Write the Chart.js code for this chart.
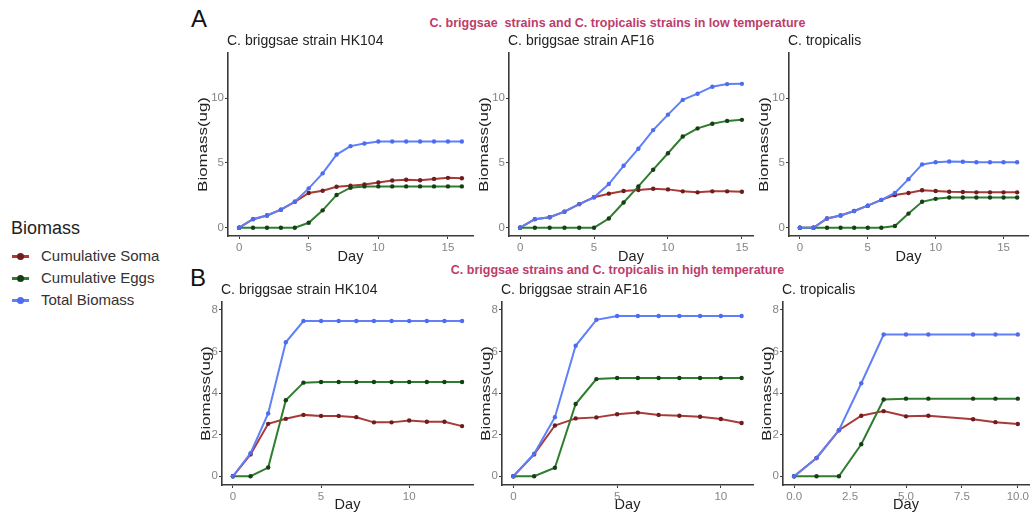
<!DOCTYPE html>
<html>
<head>
<meta charset="utf-8">
<script src="https://cdn.jsdelivr.net/npm/chart.js@4"></script>
<style>
  body { margin: 0; background: #fff; font-family: "Liberation Sans", Arial, sans-serif; }
  #page { position: relative; width: 1035px; height: 517px; overflow: hidden; }
  .abs { position: absolute; white-space: pre; }
  .tag { font-size: 24px; color: #111; line-height: 24px; }
  .head { font-size: 12.5px; font-weight: bold; color: #bd3c6c; line-height: 13px; }
  .ptitle { font-size: 14px; color: #222; line-height: 14px; }
  .leg-title { font-size: 18px; color: #222; line-height: 18px; }
  .leg-item { font-size: 15px; color: #333; line-height: 15px; }
  .swatch { position: absolute; width: 17px; height: 3px; }
  .swatch i { position: absolute; left: 5px; top: -2px; width: 7px; height: 7px; border-radius: 50%; }
  canvas { position: absolute; }
</style>
</head>
<body>
<div id="page">
  <div class="abs tag" style="left:191px; top:7px;">A</div>
  <div class="abs tag" style="left:190px; top:266px;">B</div>
  <div class="abs head" style="left:0; width:1235px; text-align:center; top:17px;">C. briggsae  strains and C. tropicalis strains in low temperature</div>
  <div class="abs head" style="left:0; width:1235px; text-align:center; top:264px;">C. briggsae strains and C. tropicalis in high temperature</div>

  <div class="abs leg-title" style="left:11px; top:219px;">Biomass</div>
</div>
<script>
// days sampled in each panel
const daysLow = [0, 1, 2, 3, 4, 5, 6, 7, 8, 9, 10, 11, 12, 13, 14, 15, 16];
const daysLowAF = [0, 1, 2, 3, 4, 5, 6, 7, 8, 9, 10, 11, 12, 13, 14, 15];
const daysHighHK = [0, 1, 2, 3, 4, 5, 6, 7, 8, 9, 10, 11, 12, 13];
const daysHighAF = [0, 1, 2, 3, 4, 5, 6, 7, 8, 9, 10, 11];
const daysHighTrop = [0, 1, 2, 3, 4, 5, 6, 8, 9, 10];

// low temperature
const somaLowHK = [0, 0.66, 0.94, 1.39, 2.0, 2.68, 2.86, 3.16, 3.24, 3.34, 3.49, 3.65, 3.7, 3.67, 3.77, 3.85, 3.82];
const eggsLowHK = [0, 0, 0, 0, 0, 0.38, 1.34, 2.53, 3.09, 3.19, 3.19, 3.19, 3.19, 3.19, 3.19, 3.19, 3.19];
const totalLowHK = [0, 0.66, 0.94, 1.39, 2.0, 3.04, 4.2, 5.65, 6.3, 6.5, 6.66, 6.66, 6.66, 6.66, 6.66, 6.66, 6.66];

const somaLowAF = [0, 0.66, 0.81, 1.24, 1.82, 2.35, 2.63, 2.84, 2.91, 3.01, 2.96, 2.81, 2.73, 2.81, 2.81, 2.78];
const eggsLowAF = [0, 0, 0, 0, 0, 0, 0.71, 1.95, 3.19, 4.48, 5.75, 7.04, 7.67, 8.03, 8.25, 8.33];
const totalLowAF = [0, 0.66, 0.81, 1.24, 1.82, 2.35, 3.37, 4.78, 6.1, 7.54, 8.73, 9.87, 10.35, 10.89, 11.09, 11.11];

const somaLowTrop = [0, 0, 0.71, 0.94, 1.29, 1.7, 2.15, 2.53, 2.68, 2.89, 2.84, 2.78, 2.76, 2.73, 2.73, 2.73, 2.73];
const eggsLowTrop = [0, 0, 0, 0, 0, 0, 0, 0.13, 1.09, 2.0, 2.23, 2.33, 2.33, 2.33, 2.33, 2.33, 2.33];
const totalLowTrop = [0, 0, 0.71, 0.94, 1.29, 1.7, 2.15, 2.68, 3.75, 4.89, 5.06, 5.11, 5.09, 5.06, 5.06, 5.06, 5.06];

// high temperature
const somaHighHK = [0, 1.05, 2.52, 2.76, 2.95, 2.9, 2.9, 2.84, 2.59, 2.59, 2.68, 2.62, 2.62, 2.41];
const eggsHighHK = [0, 0, 0.42, 3.65, 4.5, 4.53, 4.53, 4.53, 4.53, 4.53, 4.53, 4.53, 4.53, 4.53];
const totalHighHK = [0, 1.11, 3.02, 6.44, 7.46, 7.46, 7.46, 7.46, 7.46, 7.46, 7.46, 7.46, 7.46, 7.46];

const somaHighAF = [0, 1.05, 2.44, 2.78, 2.83, 2.98, 3.06, 2.95, 2.91, 2.86, 2.75, 2.56];
const eggsHighAF = [0, 0, 0.41, 3.47, 4.67, 4.72, 4.72, 4.72, 4.72, 4.72, 4.72, 4.72];
const totalHighAF = [0, 1.08, 2.84, 6.27, 7.52, 7.7, 7.7, 7.7, 7.7, 7.7, 7.7, 7.7];

const somaHighTrop = [0, 0.88, 2.21, 2.91, 3.13, 2.88, 2.91, 2.74, 2.6, 2.51];
const eggsHighTrop = [0, 0, 0, 1.54, 3.69, 3.73, 3.73, 3.73, 3.73, 3.73];
const totalHighTrop = [0, 0.88, 2.21, 4.47, 6.81, 6.81, 6.81, 6.81, 6.81, 6.81];

// tick labels
const yTicksLow = ['0', '5', '10'];
const yTicksHigh = ['0', '2', '4', '6', '8'];
const xTicksLow = ['0', '5', '10', '15'];
const xTicksHighHK = ['0', '5', '10'];
const xTicksHighTrop = ['0.0', '2.5', '5.0', '7.5', '10.0'];

const seriesNames = ['Cumulative Soma', 'Cumulative Eggs', 'Total Biomass'];
const lineColors = ['#a83a3a', '#2f7d2f', '#5f80f7'];
const pointColors = ['#6e1c1c', '#163f16', '#4d6cf0'];

const page = document.getElementById('page');

// legend on the left
[256, 278, 300].forEach((y, i) => {
    const sw = document.createElement('div');
    sw.className = 'swatch';
    sw.style.left = '12px';
    sw.style.top = (y - 1) + 'px';
    sw.style.background = lineColors[i];
    sw.innerHTML = `<i style="background:${pointColors[i]}"></i>`;
    page.appendChild(sw);
    const t = document.createElement('div');
    t.className = 'abs leg-item';
    t.style.left = '41px';
    t.style.top = (y - 8) + 'px';
    t.textContent = seriesNames[i];
    page.appendChild(t);
});

// y axis title, drawn a little wide like the original figure
const yTitlePlugin = {
    id: 'yTitle',
    afterDraw(chart, args, opts) {
        const ctx = chart.ctx;
        const area = chart.chartArea;
        ctx.save();
        ctx.translate(area.left - opts.gap, (area.top + area.bottom) / 2);
        ctx.rotate(-Math.PI / 2);
        ctx.scale(1.3, 1);
        ctx.font = '13px "Liberation Sans", Arial, sans-serif';
        ctx.fillStyle = '#222';
        ctx.textAlign = 'center';
        ctx.textBaseline = 'middle';
        ctx.fillText('Biomass(ug)', 0, 0);
        ctx.restore();
    }
};

function addPanel(opt) {
    const yW = 48, xH = 30, padT = 4, padR = 5;
    const cv = document.createElement('canvas');
    const w = opt.right - opt.left + yW + padR;
    const h = opt.bottom - opt.top + xH + padT;
    cv.width = w; cv.height = h;
    cv.style.left = (opt.left - yW) + 'px';
    cv.style.top = (opt.top - padT) + 'px';
    cv.style.width = w + 'px';
    cv.style.height = h + 'px';
    page.appendChild(cv);

    const t = document.createElement('div');
    t.className = 'abs ptitle';
    t.style.left = (opt.left - 1) + 'px';
    t.style.top = (opt.top - 16) + 'px';
    t.textContent = opt.title;
    page.appendChild(t);

    const series = [opt.soma, opt.eggs, opt.total];
    const datasets = series.map((vals, i) => ({
        label: seriesNames[i],
        data: vals.map((v, k) => ({x: opt.days[k], y: v})),
        borderColor: lineColors[i],
        backgroundColor: pointColors[i],
        pointBackgroundColor: pointColors[i],
        pointBorderWidth: 0,
        pointRadius: 2.2,
        borderWidth: 2,
        tension: 0,
        order: 2 - i
    }));

    const axisColor = '#3a3a3a';
    const tickFont = {family: '"Liberation Sans", Arial, sans-serif', size: 11.5};
    const titleFont = {family: '"Liberation Sans", Arial, sans-serif', size: 14.5};

    new Chart(cv.getContext('2d'), {
        type: 'line',
        data: {datasets: datasets},
        plugins: [yTitlePlugin],
        options: {
            responsive: false,
            animation: false,
            events: [],
            layout: {padding: {top: padT, right: padR, left: 0, bottom: 0}},
            plugins: {
                legend: {display: false}, tooltip: {enabled: false}, title: {display: false},
                yTitle: {gap: opt.bioGap}
            },
            scales: {
                x: {
                    type: 'linear',
                    min: opt.xMin, max: opt.xMax,
                    afterBuildTicks: (axis) => { axis.ticks = opt.xLabels.map(s => ({value: parseFloat(s)})); },
                    afterFit: (axis) => { axis.height = xH; },
                    ticks: {
                        color: '#858585', font: tickFont, padding: 2, maxRotation: 0, autoSkip: false,
                        callback: (v, i) => opt.xLabels[i]
                    },
                    grid: {drawOnChartArea: false, drawTicks: true, tickLength: 3, color: axisColor, lineWidth: 1},
                    border: {display: true, color: axisColor, width: 1.6},
                    title: {display: true, text: 'Day', color: '#222', font: titleFont, padding: {top: 0, bottom: opt.dayPad}}
                },
                y: {
                    type: 'linear',
                    min: opt.yMin, max: opt.yMax,
                    afterBuildTicks: (axis) => { axis.ticks = opt.yLabels.map(s => ({value: parseFloat(s)})); },
                    afterFit: (axis) => { axis.width = yW; },
                    ticks: {
                        color: '#858585', font: tickFont, padding: 1, autoSkip: false,
                        callback: (v, i) => opt.yLabels[i]
                    },
                    grid: {drawOnChartArea: false, drawTicks: true, tickLength: 3, color: axisColor, lineWidth: 1},
                    border: {display: true, color: axisColor, width: 1.6}
                }
            }
        }
    });
}

addPanel({title: 'C. briggsae strain HK104', left: 228, right: 473, top: 49, bottom: 236,
    days: daysLow, soma: somaLowHK, eggs: eggsLowHK, total: totalLowHK,
    xMin: -0.8, xMax: 16.8, yMin: -0.64, yMax: 13.5, xLabels: xTicksLow, yLabels: yTicksLow, dayPad: 0, bioGap: 25});
addPanel({title: 'C. briggsae strain AF16', left: 509, right: 753, top: 49, bottom: 236,
    days: daysLowAF, soma: somaLowAF, eggs: eggsLowAF, total: totalLowAF,
    xMin: -0.75, xMax: 15.75, yMin: -0.64, yMax: 13.5, xLabels: xTicksLow, yLabels: yTicksLow, dayPad: 0, bioGap: 25});
addPanel({title: 'C. tropicalis', left: 789, right: 1028, top: 49, bottom: 236,
    days: daysLow, soma: somaLowTrop, eggs: eggsLowTrop, total: totalLowTrop,
    xMin: -0.8, xMax: 16.8, yMin: -0.64, yMax: 13.5, xLabels: xTicksLow, yLabels: yTicksLow, dayPad: 0, bioGap: 25});

addPanel({title: 'C. briggsae strain HK104', left: 222, right: 473, top: 298, bottom: 485,
    days: daysHighHK, soma: somaHighHK, eggs: eggsHighHK, total: totalHighHK,
    xMin: -0.62, xMax: 13.62, yMin: -0.42, yMax: 8.38, xLabels: xTicksHighHK, yLabels: yTicksHigh, dayPad: 1, bioGap: 16});
addPanel({title: 'C. briggsae strain AF16', left: 502, right: 753, top: 298, bottom: 485,
    days: daysHighAF, soma: somaHighAF, eggs: eggsHighAF, total: totalHighAF,
    xMin: -0.55, xMax: 11.55, yMin: -0.42, yMax: 8.38, xLabels: xTicksHighHK, yLabels: yTicksHigh, dayPad: 1, bioGap: 16});
addPanel({title: 'C. tropicalis', left: 783, right: 1029, top: 298, bottom: 485,
    days: daysHighTrop, soma: somaHighTrop, eggs: eggsHighTrop, total: totalHighTrop,
    xMin: -0.5, xMax: 10.5, yMin: -0.42, yMax: 8.38, xLabels: xTicksHighTrop, yLabels: yTicksHigh, dayPad: 1, bioGap: 16});
</script>
</body>
</html>
